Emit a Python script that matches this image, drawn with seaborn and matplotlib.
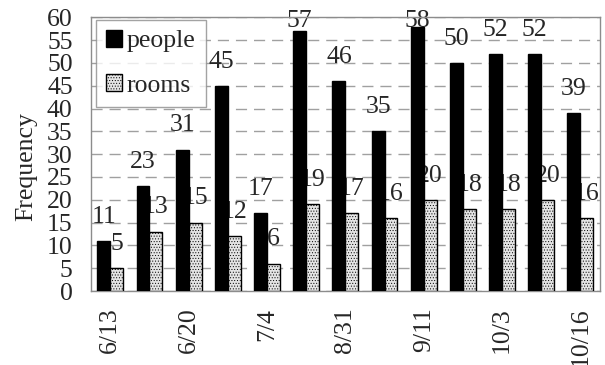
import matplotlib
matplotlib.use("Agg")
import matplotlib.pyplot as plt
import seaborn as sns
import pandas as pd
from matplotlib.patches import Patch

# ---- data ----
groups = list(range(13))
tick_labels = ["6/13", "", "6/20", "", "7/4", "", "8/31", "", "9/11", "", "10/3", "", "10/16"]
people = [11, 23, 31, 45, 17, 57, 46, 35, 58, 50, 52, 52, 39]
rooms = [5, 13, 15, 12, 6, 19, 17, 16, 20, 18, 18, 20, 16]
series_names = ["people", "rooms"]
y_ticks = list(range(0, 61, 5))

df = pd.DataFrame({
    "group": groups * 2,
    "series": [series_names[0]] * len(groups) + [series_names[1]] * len(groups),
    "value": people + rooms,
})

sns.set_style("white")
plt.rcParams["font.family"] = ["Liberation Serif", "DejaVu Serif"]
plt.rcParams["hatch.linewidth"] = 0.4
plt.rcParams["hatch.color"] = "#707070"

FS = 18.5
GREY = "#8c8c8c"
ROOM_FACE = "#e4e4e4"

fig = plt.figure(figsize=(6.05, 3.65), dpi=100)
ax = fig.add_axes([90.7 / 605, 1 - 291 / 365, (600 - 90.7) / 605, (291 - 17.4) / 365])

sns.barplot(data=df, x="group", y="value", hue="series", order=groups,
            hue_order=series_names, palette={"people": "black", "rooms": ROOM_FACE},
            saturation=1, width=0.66, edgecolor="black", linewidth=1.0,
            legend=False, ax=ax, zorder=3)

for bar in ax.containers[1]:
    bar.set_hatch("......")
    bar.set_zorder(3)
for bar in ax.containers[0]:
    bar.set_zorder(3)

# value labels (drawn beneath the bars, like the reference)
for cont, vals in zip(ax.containers, [people, rooms]):
    for bar, v in zip(cont, vals):
        xc = bar.get_x() + bar.get_width() / 2
        ax.text(xc, min(v + 4, 57.8), f"{v}", ha="center", va="baseline",
                fontsize=FS, zorder=2, clip_on=False)

ax.set_ylim(0, 60)
ax.set_xlim(-0.5, len(groups) - 0.5)
ax.set_yticks(y_ticks)
ax.set_yticklabels([str(t) for t in y_ticks], fontsize=FS)
ax.set_xticks(groups)
ax.set_xticklabels(tick_labels, rotation=90, fontsize=FS, va="top", ha="center")
ax.set_xticks([g + 0.5 for g in groups[:-1]], minor=True)

ax.tick_params(axis="x", which="major", length=0, pad=12)
ax.tick_params(axis="x", which="minor", direction="in", length=7, color=GREY, width=1)
ax.tick_params(axis="y", which="major", direction="in", length=5, color=GREY, width=1, pad=13)

ax.yaxis.grid(True, linestyle=(0, (8, 5)), color="#a0a0a0", linewidth=1, zorder=1)
ax.set_axisbelow(True)
ax.set_xlabel("")
ax.set_ylabel("Frequency", fontsize=FS)
ax.yaxis.set_label_coords(-0.105, 0.455)

for s in ax.spines.values():
    s.set_color(GREY)
    s.set_linewidth(1)

handles = [Patch(facecolor="black", edgecolor="black"),
           Patch(facecolor=ROOM_FACE, edgecolor="black", hatch="......")]
leg = ax.legend(handles, series_names, loc="upper left",
                bbox_to_anchor=(96 / 605, 1 - 20 / 365), bbox_transform=fig.transFigure,
                borderaxespad=0, fontsize=FS, frameon=True, fancybox=False,
                handlelength=0.6, handleheight=0.6, handletextpad=0.2,
                labelspacing=0.85, borderpad=0.4)
leg.get_frame().set_edgecolor(GREY)
leg.get_frame().set_linewidth(1)
leg.set_zorder(5)

fig.savefig("out.png", dpi=100)
